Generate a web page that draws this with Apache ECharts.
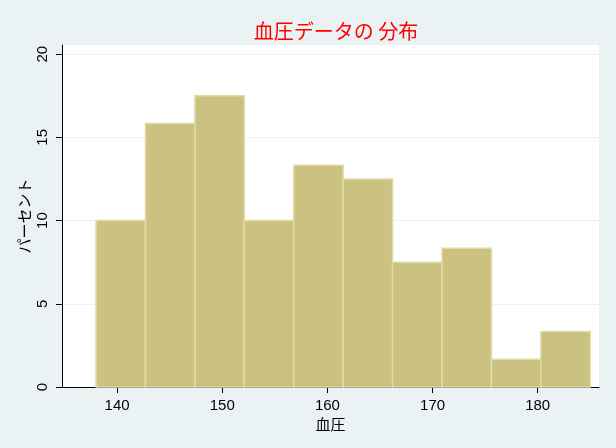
<!DOCTYPE html>
<html>
<head>
<meta charset="utf-8">
<script src="https://cdn.jsdelivr.net/npm/echarts@6/dist/echarts.min.js"></script>
<style>html,body{margin:0;padding:0;background:#EAF2F3;}#c{width:616px;height:448px;}</style>
</head>
<body>
<div id="c"></div>
<script>
const binEdges = [138, 142.7, 147.4, 152.1, 156.8, 161.5, 166.2, 170.9, 175.6, 180.3, 185];
const percents = [10, 15.83, 17.5, 10, 13.33, 12.5, 7.5, 8.33, 1.67, 3.33];
const xTicks = [140, 150, 160, 170, 180];
const yTicks = [0, 5, 10, 15, 20];
const titleText = '血圧データの 分布';
const xName = '血圧';
const yName = 'パーセント';

const data = percents.map((p, i) => [binEdges[i], binEdges[i + 1], p]);
const chart = echarts.init(document.getElementById('c'));
const numFont = 'Liberation Sans';
const jpFont = 'Noto Sans CJK JP';
chart.setOption({
  backgroundColor: '#EAF2F3',
  animation: false,
  title: {
    text: titleText, left: 331, top: 16, textAlign: 'center',
    textStyle: { color: '#ff0000', fontSize: 20, fontWeight: 'normal', fontFamily: jpFont }
  },
  grid: { left: 62, right: 17, top: 45, bottom: 61, show: true, backgroundColor: '#ffffff', borderWidth: 0 },
  xAxis: {
    type: 'value', min: 134.76, max: 185.83,
    name: xName, nameLocation: 'middle', nameGap: 30, nameMoveOverlap: false,
    nameTextStyle: { color: '#000', fontSize: 15, fontFamily: jpFont },
    axisLine: { onZero: false, lineStyle: { color: '#000', width: 1 } },
    axisTick: { show: true, length: 6, customValues: xTicks, lineStyle: { color: '#000' } },
    axisLabel: { customValues: xTicks, color: '#000', fontSize: 15, fontFamily: numFont, margin: 11 },
    splitLine: { show: false }
  },
  yAxis: {
    type: 'value', min: 0, max: 20.55,
    name: yName, nameLocation: 'middle', nameGap: 30, nameRotate: 90, nameMoveOverlap: false,
    nameTextStyle: { color: '#000', fontSize: 15, fontFamily: jpFont },
    axisLine: { show: true, lineStyle: { color: '#000', width: 1 } },
    axisTick: { show: true, length: 6, customValues: yTicks, lineStyle: { color: '#000' } },
    axisLabel: { customValues: yTicks, rotate: 90, color: '#000', fontSize: 15, fontFamily: numFont, margin: 12 },
    splitLine: { show: true, lineStyle: { color: '#EAF2F3', width: 1 } }
  },
  series: [{
    type: 'custom',
    data: data,
    encode: { x: [0, 1], y: 2 },
    renderItem: function (params, api) {
      const p0 = api.coord([api.value(0), 0]);
      const p1 = api.coord([api.value(1), api.value(2)]);
      return {
        type: 'rect',
        shape: { x: p0[0], y: p1[1], width: p1[0] - p0[0], height: p0[1] - p1[1] },
        style: { fill: '#cbc281', stroke: '#e2dba8', lineWidth: 1.5 }
      };
    }
  }]
});
</script>
</body>
</html>
